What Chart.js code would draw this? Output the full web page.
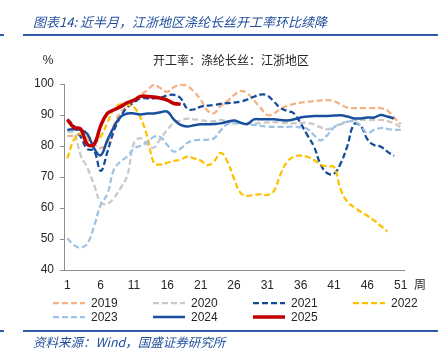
<!DOCTYPE html>
<html>
<head>
<meta charset="utf-8">
<script src="https://cdn.jsdelivr.net/npm/chart.js@4.4.1/dist/chart.umd.min.js"></script>
<style>
  body { margin: 0; background: #fff; }
  #wrap { position: relative; width: 441px; height: 364px; overflow: hidden; font-family: "Liberation Sans", Arial, "Noto Sans CJK SC", sans-serif; }
  #myChart { position: absolute; left: 0; top: 0; }
  .title { position: absolute; left: 33px; top: 12px; font: italic 13px "Noto Sans CJK SC", sans-serif; color: #1F4E9C; white-space: nowrap; }
  .src { position: absolute; left: 33px; top: 332px; font: italic 12.5px "Noto Sans CJK SC", sans-serif; color: #1F4E9C; white-space: nowrap; }
  .hr { position: absolute; height: 2px; background: #2F5CA8; }
  .item { position: absolute; height: 14px; font-size: 12px; color: #262626; line-height: 14px; white-space: nowrap; }
  .item svg { position: absolute; left: 0; top: 0; }
  .item span { position: absolute; left: 38px; top: 0; }
</style>
</head>
<body>
<div id="wrap">
  <canvas id="myChart" width="441" height="364"></canvas>
  <div class="title">图表14: 近半月，江浙地区涤纶长丝开工率环比续降</div>
  <div class="hr" style="left:0;top:34px;width:4px"></div>
  <div class="hr" style="left:23px;top:34px;width:415px"></div>
  <div class="hr" style="left:0;top:330px;width:4px"></div>
  <div class="hr" style="left:23px;top:330px;width:415px"></div>
  <div class="src">资料来源：Wind，国盛证券研究所</div>
  <div id="legend"></div>
</div>
<script>
// 开工率：涤纶长丝：江浙地区 (%)，按周
var weeks = ["1","2","3","4","5","6","7","8","9","10","11","12","13","14","15","16","17","18","19","20",
             "21","22","23","24","25","26","27","28","29","30","31","32","33","34","35","36","37","38","39","40",
             "41","42","43","44","45","46","47","48","49","50","51"];

var y2019 = [83.2, 83.3, 83.5, 82, 80.5, 79.3, 81, 86.8, 91, 92.7, 94.5, 96.5, 98, 99.7, 98.6, 97.5, 99, 99.7, 99.3, 97.5,
             95, 91.5, 90.6, 93, 94.5, 96.4, 97.8, 97, 94.7, 92.3, 90, 90.5, 92, 93, 93.6, 94, 94.3, 94.5, 94.7, 94.8,
             94.5, 93.4, 92.4, 92.2, 92.2, 92.2, 92.2, 92.2, 91.5, 89.2, 87];
var y2020 = [84.6, 84.2, 77, 73, 67.5, 61.8, 61.3, 63.3, 66.5, 70.5, 81, 82.5, 80.5, 79.5, 82.5, 85.2, 87.5, 88.2, 88.8, 88.6,
             88.4, 88, 88, 88.4, 88, 87.6, 87.4, 87.3, 87.3, 87.4, 87.6, 87.7, 87.5, 87.4, 87.3, 87.4, 87.4, 87, 86, 85.4,
             86.2, 87.3, 87.8, 88.2, 88.4, 88.4, 88.4, 88.4, 88, 87.3, 86];
var y2021 = [88.6, 86.5, 83, 79, 78.5, 72, 78, 85, 89.5, 92.5, 94, 95.4, 95.4, 95.4, 95.6, 96.3, 96.5, 95.4, 92, 91.8,
             92.7, 93, 93.2, 93.6, 93.8, 94, 94.3, 95, 95.9, 96.6, 96.3, 94.3, 92.2, 91.3, 90.5, 87.3, 83.5, 79.8, 74, 71.2,
             71, 74.4, 80, 87, 86.5, 82.2, 80.3, 79.8, 78.2, 76.8];
var y2022 = [76, 82, 84, 83, 81, 83, 87.5, 92, 93.5, 93.3, 92.5, 89, 83, 74.5, 74, 74.6, 75.2, 75.6, 76.6, 76,
             75.3, 73.8, 75, 77.8, 75, 69.5, 64.8, 63.9, 64.2, 64.4, 64.2, 65.5, 71, 75, 76.6, 76.9, 76.5, 75.5, 74, 73.4,
             73.2, 66, 62, 60.3, 58.8, 57.5, 56, 54.2, 52.5];
var y2023 = [50.2, 48, 47.2, 48.5, 54, 61, 64.5, 72.5, 75, 76.6, 79.2, 80.1, 81.2, 83, 82.8, 80.3, 78.2, 79.2, 81, 81.8,
             82, 82, 82.5, 85, 87, 87.3, 87.2, 87, 86.8, 86.5, 86.3, 86.2, 86.2, 86.2, 86.2, 86, 85.5, 83.5, 81.8, 83.5,
             86, 87, 87.8, 88, 86.5, 84.2, 85.2, 85.8, 85.5, 85.2, 85.2];
var y2024 = [85.2, 85.4, 85.2, 83.9, 79.3, 77, 81.9, 86.2, 89.5, 90.5, 90.5, 90.2, 90.5, 90.5, 90.9, 91.1, 88.5, 86.8, 86.3, 86.7,
             87, 87, 87.1, 87.3, 87.8, 88.2, 87.5, 87.1, 88.6, 88.6, 88.6, 88.6, 88.4, 88.2, 88.6, 89.2, 89.5, 89.7, 89.7, 89.7,
             89.8, 89.9, 89.5, 88.9, 88.9, 89.2, 89.2, 90, 89.5, 88.9];
var y2025 = [88.5, 86, 85.5, 80.5, 80.5, 86.5, 90.5, 91.7, 92.7, 94, 94.8, 96, 96, 95.8, 95.4, 94.8, 93.7, 93.5];

var yTicks = [40, 50, 60, 70, 80, 90, 100];
var subtitle = '开工率：涤纶长丝：江浙地区';

function dashed(label, data, color, order) {
  return { label: label, data: data, borderColor: color, backgroundColor: color, borderWidth: 2.25,
           borderDash: [6, 3], pointRadius: 0, tension: 0.4, order: order };
}
function solid(label, data, color, width, order) {
  return { label: label, data: data, borderColor: color, backgroundColor: color, borderWidth: width,
           pointRadius: 0, tension: 0.4, order: order };
}

var extraText = {
  id: 'extraText',
  afterDraw: function(chart) {
    var ctx = chart.ctx;
    ctx.save();
    ctx.fillStyle = '#262626';
    ctx.textAlign = 'center';
    ctx.textBaseline = 'middle';
    ctx.font = '12px "Liberation Sans", Arial';
    ctx.fillText('%', 48, 61);
    ctx.font = '12px "Noto Sans CJK SC"';
    ctx.fillText(subtitle, 231, 60);
    ctx.fillText('周', 420, 284);
    ctx.restore();
  }
};

var ctx = document.getElementById('myChart').getContext('2d');
var myChart = new Chart(ctx, {
  type: 'line',
  data: {
    labels: weeks,
    datasets: [
      dashed('2019', y2019, '#F4B183', 6),
      dashed('2020', y2020, '#C9C9C9', 5),
      dashed('2021', y2021, '#134A9A', 4),
      dashed('2022', y2022, '#FFC000', 3),
      dashed('2023', y2023, '#9DC3E6', 2),
      solid('2024', y2024, '#1A4F9F', 2.5, 1),
      solid('2025', y2025, '#C00000', 3.5, 0)
    ]
  },
  options: {
    responsive: false,
    animation: false,
    layout: { padding: { left: 24, right: 37, top: 84, bottom: 74 } },
    plugins: { legend: { display: false }, tooltip: { enabled: false } },
    scales: {
      x: {
        offset: true,
        grid: { display: false, drawTicks: false },
        border: { display: true, color: '#8C8C8C', width: 1 },
        ticks: {
          autoSkip: false, maxRotation: 0, padding: 8, color: '#262626',
          font: { family: '"Liberation Sans", Arial', size: 12 },
          callback: function(v, i) { return i % 5 === 0 ? weeks[i] : ''; }
        },
        afterFit: function(s) { s.height = 20; }
      },
      y: {
        min: yTicks[0], max: yTicks[yTicks.length - 1],
        grid: { drawOnChartArea: false, drawTicks: true, tickLength: 4, color: '#8C8C8C' },
        border: { display: true, color: '#8C8C8C', width: 1 },
        ticks: { stepSize: 10, padding: 6, color: '#262626', font: { family: '"Liberation Sans", Arial', size: 12 } },
        afterFit: function(s) { s.width = 40; }
      }
    }
  },
  plugins: [extraText]
});

// legend in 4 columns, built from the chart's datasets
var legendBox = document.getElementById('legend');
myChart.data.datasets.forEach(function(ds, i) {
  var item = document.createElement('div');
  item.className = 'item';
  item.style.left = (53 + (i % 4) * 100) + 'px';
  item.style.top = (296 + Math.floor(i / 4) * 14) + 'px';
  var dash = ds.borderDash ? ' stroke-dasharray="6 3"' : '';
  item.innerHTML = '<svg width="34" height="14"><line x1="0" y1="7" x2="32" y2="7" stroke="' + ds.borderColor +
    '" stroke-width="' + (ds.borderDash ? 2.25 : ds.borderWidth) + '"' + dash + '/></svg><span>' + ds.label + '</span>';
  legendBox.appendChild(item);
});
</script>
</body>
</html>
